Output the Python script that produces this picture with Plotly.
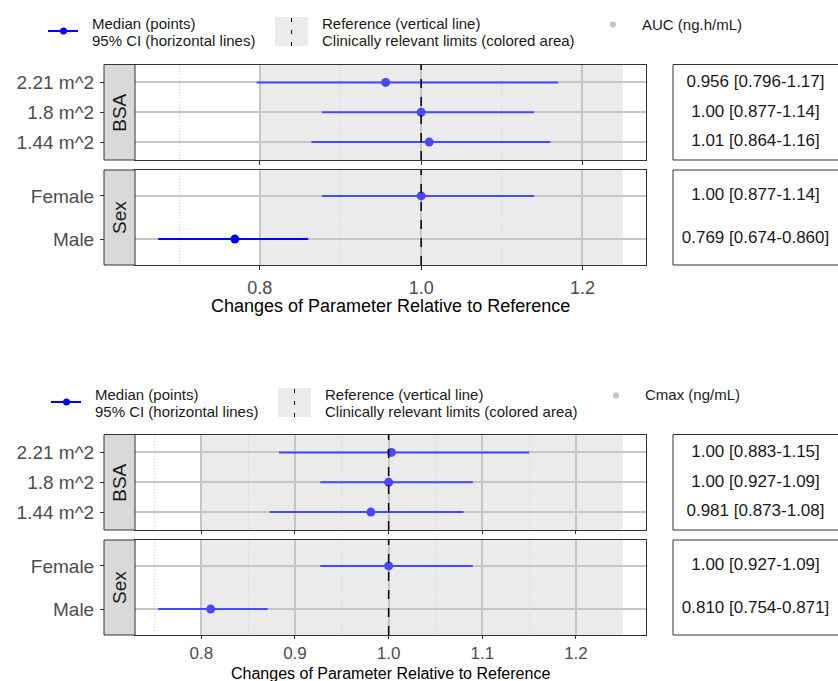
import plotly.graph_objects as go

# ---------------- data ----------------
bsa_levels = ["1.44 m^2", "1.8 m^2", "2.21 m^2"]   # bottom -> top
sex_levels = ["Male", "Female"]                     # bottom -> top

auc_bsa_median = [1.01, 1.00, 0.956]
auc_bsa_lo = [0.864, 0.877, 0.796]
auc_bsa_hi = [1.16, 1.14, 1.17]
auc_sex_median = [0.769, 1.00]
auc_sex_lo = [0.674, 0.877]
auc_sex_hi = [0.860, 1.14]

cmax_bsa_median = [0.981, 1.00, 1.003]
cmax_bsa_lo = [0.873, 0.927, 0.883]
cmax_bsa_hi = [1.08, 1.09, 1.15]
cmax_sex_median = [0.810, 1.00]
cmax_sex_lo = [0.754, 0.927]
cmax_sex_hi = [0.871, 1.09]

parameters = ["AUC (ng.h/mL)", "Cmax (ng/mL)"]
ref_value = 1.0
limits = [0.8, 1.25]
major_ticks = [[0.8, 1.0, 1.2], [0.8, 0.9, 1.0, 1.1, 1.2]]
minor_ticks = [[0.7, 0.9, 1.1], [0.75, 0.85, 0.95, 1.05, 1.15]]
x_title = "Changes of Parameter Relative to Reference"

# ---------------- layout helpers ----------------
W, H = 838, 681
def px(x):
    return x / W
def py(y):
    return 1 - y / H
def aid(k):
    return "" if k == 1 else str(k)

charts = [
    dict(panels=[("BSA", bsa_levels, auc_bsa_median, auc_bsa_lo, auc_bsa_hi),
                 ("Sex", sex_levels, auc_sex_median, auc_sex_lo, auc_sex_hi)]),
    dict(panels=[("BSA", bsa_levels, cmax_bsa_median, cmax_bsa_lo, cmax_bsa_hi),
                 ("Sex", sex_levels, cmax_sex_median, cmax_sex_lo, cmax_sex_hi)]),
]

BLUE = "#0000FF"
BLUE_L = "#4848FF"
GRID = "#C6C6C6"
BORDER = "#333333"

panel_x = (135, 646)
strip_x = (104, 135)
table_x = (673, 840)
chart_dy = [0, 370]
panel_y = [(64.5, 160), (170, 265)]
title_y = [306, 673]
title_size = [18, 16]
xtick_size = [18, 17]
xtick_standoff = [2, 0]
xtick_len = [4, 3]

fig = go.Figure()
layout = dict(width=W, height=H, margin=dict(l=0, r=0, t=0, b=0),
              paper_bgcolor="white", plot_bgcolor="white", showlegend=False,
              font=dict(family="Liberation Sans, Arial, sans-serif"))
shapes, annotations = [], []

for c, ch in enumerate(charts):
    allv = []
    for (_, _, m, lo, hi) in ch["panels"]:
        allv += lo + hi + m
    vmin = min(min(allv), limits[0])
    vmax = max(max(allv), limits[1])
    exp = 0.05 * (vmax - vmin)
    xr = [vmin - exp, vmax + exp]
    dy = chart_dy[c]
    for p, (strip, levels, med, lo, hi) in enumerate(ch["panels"]):
        k = 2 * c + p + 1
        kt = k + 4
        xk, yk, xt, yt = "x" + aid(k), "y" + aid(k), "x" + aid(kt), "y" + aid(kt)
        y0p, y1p = panel_y[p][0] + dy, panel_y[p][1] + dy
        ydom = [py(y1p), py(y0p)]
        n = len(levels)
        pos = list(range(1, n + 1))
        yr = [0.4, n + 0.6]
        # CI lines and medians
        for i in range(n):
            col = BLUE if (c == 0 and strip == "Sex" and i == 0) else BLUE_L
            fig.add_trace(go.Scatter(x=[lo[i], hi[i]], y=[pos[i], pos[i]], mode="lines",
                                     line=dict(color=col, width=2), xaxis=xk, yaxis=yk,
                                     hoverinfo="skip"))
            fig.add_trace(go.Scatter(x=[med[i]], y=[pos[i]], mode="markers",
                                     marker=dict(color=col, size=9), xaxis=xk, yaxis=yk))
        # table text
        labels = [f"{med[i]:#.3g} [{lo[i]:#.3g}-{hi[i]:#.3g}]" for i in range(n)]
        fig.add_trace(go.Scatter(x=[0.5] * n, y=pos, mode="text", text=labels,
                                 textfont=dict(size=17, color="#1A1A1A"),
                                 xaxis=xt, yaxis=yt, hoverinfo="skip"))
        xa = dict(domain=[px(panel_x[0]), px(panel_x[1])], range=xr, anchor=yk,
                  tickvals=major_ticks[c], tickformat=".1f",
                  showticklabels=(p == 1), ticks="outside", ticklen=xtick_len[c], tickcolor=BORDER,
                  ticklabelstandoff=xtick_standoff[c],
                  tickfont=dict(size=xtick_size[c], color="#4D4D4D"),
                  showgrid=True, gridcolor=GRID, gridwidth=1.5, zeroline=False,
                  showline=True, mirror=True, linecolor=BORDER, linewidth=1,
                  minor=dict(tickvals=minor_ticks[c], showgrid=True, gridcolor="#D2D2D2",
                             griddash="1px,2px", gridwidth=1, ticks=""))
        if p == 0:
            xa["matches"] = "x" + aid(k + 1)
        ya = dict(domain=ydom, range=yr, anchor=xk, tickvals=pos, ticktext=levels,
                  ticks="outside", ticklen=34, tickcolor=BORDER, tickwidth=1,
                  ticklabelstandoff=2,
                  tickfont=dict(size=19, color="#4D4D4D"),
                  showgrid=True, gridcolor=GRID, gridwidth=1.5, zeroline=False,
                  showline=True, mirror=True, linecolor=BORDER, linewidth=1)
        layout["xaxis" + aid(k)] = xa
        layout["yaxis" + aid(k)] = ya
        layout["xaxis" + aid(kt)] = dict(domain=[px(table_x[0]), 1.0], range=[0, 1], anchor=yt,
                                         visible=False)
        layout["yaxis" + aid(kt)] = dict(domain=ydom, range=yr, anchor=xt, visible=False)
        # shaded clinically relevant region
        shapes.append(dict(type="rect", xref=xk, yref=yk + " domain", x0=limits[0], x1=limits[1],
                           y0=0, y1=1, fillcolor="#EBEBEB", line=dict(width=0), layer="below"))
        # reference line
        shapes.append(dict(type="line", xref=xk, yref=yk + " domain", x0=ref_value, x1=ref_value,
                           y0=0, y1=1, line=dict(color="black", width=1.5, dash="dash"), layer="above"))
        # strip
        shapes.append(dict(type="rect", xref="paper", yref="paper", x0=px(strip_x[0]), x1=px(strip_x[1]),
                           y0=ydom[0], y1=ydom[1], fillcolor="#D9D9D9",
                           line=dict(color=BORDER, width=1), layer="above"))
        annotations.append(dict(x=px((strip_x[0] + strip_x[1]) / 2), y=(ydom[0] + ydom[1]) / 2,
                                xref="paper", yref="paper", text=strip, textangle=-90, showarrow=False,
                                font=dict(size=19, color="#1A1A1A"), xanchor="center", yanchor="middle"))
        # table box
        shapes.append(dict(type="rect", xref="paper", yref="paper", x0=px(table_x[0]), x1=px(table_x[1]),
                           y0=ydom[0], y1=ydom[1], line=dict(color=BORDER, width=1), layer="above"))
    # x-axis title
    annotations.append(dict(x=px((panel_x[0] + panel_x[1]) / 2), y=py(title_y[c]),
                            xref="paper", yref="paper", text=x_title, showarrow=False,
                            font=dict(size=title_size[c], color="black"), borderpad=0,
                            xanchor="center", yanchor="middle"))
    # legend
    ldy = [0, 371][c]
    ldx = [0, 3][c]
    shapes.append(dict(type="line", xref="paper", yref="paper", x0=px(48 + ldx), x1=px(78 + ldx),
                       y0=py(31 + ldy), y1=py(31 + ldy), line=dict(color=BLUE, width=2)))
    shapes.append(dict(type="circle", xref="paper", yref="paper", x0=px(60 + ldx), x1=px(67 + ldx),
                       y0=py(27.5 + ldy), y1=py(34.5 + ldy), fillcolor=BLUE, line=dict(width=0)))
    shapes.append(dict(type="rect", xref="paper", yref="paper", x0=px(275 + ldx), x1=px(308 + ldx),
                       y0=py(46 + ldy), y1=py(17 + ldy), fillcolor="#EBEBEB", line=dict(width=0)))
    shapes.append(dict(type="line", xref="paper", yref="paper", x0=px(291.5 + ldx), x1=px(291.5 + ldx),
                       y0=py(46 + ldy), y1=py(17 + ldy), line=dict(color="black", width=1, dash="4px,8px")))
    shapes.append(dict(type="circle", xref="paper", yref="paper", x0=px(610 + ldx), x1=px(616 + ldx),
                       y0=py(21.5 + ldy), y1=py(27.5 + ldy), fillcolor="#C2C2C2", line=dict(width=0)))
    for (tx, ty, t) in [(90, 23, "Median (points)"), (90, 40, "95% CI (horizontal lines)"),
                        (320, 23, "Reference (vertical line)"),
                        (320, 40, "Clinically relevant limits (colored area)"),
                        (640, 24, parameters[c])]:
        annotations.append(dict(x=px(tx + ldx), y=py(ty + ldy), xref="paper", yref="paper", text=t,
                                showarrow=False, font=dict(size=15, color="#1A1A1A"),
                                xanchor="left", yanchor="middle"))

layout["shapes"] = shapes
layout["annotations"] = annotations
fig.update_layout(**layout)
fig.write_html("out.html")
